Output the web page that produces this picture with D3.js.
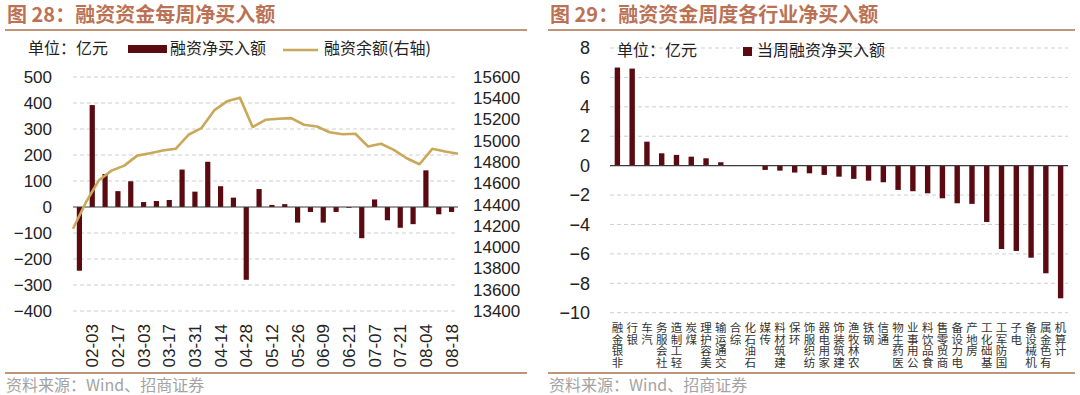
<!DOCTYPE html>
<html>
<head>
<meta charset="utf-8">
<script src="https://cdn.jsdelivr.net/npm/d3@7"></script>
<style>
  body { margin: 0; background: #fff; }
  svg { display: block; }
</style>
</head>
<body>
<svg id="chart" width="1080" height="395"></svg>
<script>
// ---- left chart: weekly net buy & margin balance ----
const weeks = ['01-20', '02-03', '02-10', '02-17', '02-24', '03-03', '03-10', '03-17', '03-24', '03-31',
  '04-07', '04-14', '04-21', '04-28', '05-05', '05-12', '05-19', '05-26', '06-02', '06-09',
  '06-16', '06-21', '06-30', '07-07', '07-14', '07-21', '07-28', '08-04', '08-11', '08-18'];
const weekLabels = ['02-03', '02-17', '03-03', '03-17', '03-31', '04-14', '04-28', '05-12',
  '05-26', '06-09', '06-21', '07-07', '07-21', '08-04', '08-18'];
const netBuy = [-245, 392, 127, 61, 99, 19, 23, 27, 144, 59, 174, 80, 36, -280, 69,
  8, 11, -60, -19, -60, -19, -3, -120, 29, -51, -80, -66, 141, -28, -19];
const balance = [14173, 14420, 14626, 14720, 14767, 14861, 14884, 14909, 14925, 15057, 15119,
  15286, 15371, 15406, 15129, 15198, 15208, 15213, 15151, 15135, 15081, 15062, 15066,
  14947, 14972, 14915, 14836, 14780, 14925, 14899, 14878];
const leftTicks = [-400, -300, -200, -100, 0, 100, 200, 300, 400, 500];
const rightTicks = [13400, 13600, 13800, 14000, 14200, 14400, 14600, 14800, 15000, 15200, 15400, 15600];

// ---- right chart: industry net buy ----
const industries = ['非银金融', '银行', '汽车', '社会服务', '轻工制造', '煤炭', '美容护理', '交通运输',
  '综合', '石油石化', '传媒', '建筑材料', '环保', '纺织服饰', '家用电器', '建筑装饰', '农林牧渔',
  '钢铁', '通信', '医药生物', '公用事业', '食品饮料', '商贸零售', '电力设备', '房地产', '基础化工',
  '国防军工', '电子', '机械设备', '有色金属', '计算机'];
const industryNet = [6.67, 6.6, 1.63, 0.84, 0.73, 0.61, 0.5, 0.23, 0.02, -0.02, -0.29, -0.34,
  -0.47, -0.52, -0.63, -0.75, -0.9, -1.02, -1.13, -1.65, -1.74, -1.88, -2.22, -2.56, -2.6,
  -3.83, -5.67, -5.8, -6.26, -7.32, -9.02];
const industryTicks = [-10, -8, -6, -4, -2, 0, 2, 4, 6, 8];

const BAR = '#5a0a10';
const LINE = '#c9a85a';
const TITLE = '#bb7254';
const RULE = '#bf9478';
const CJK = '"Noto Sans CJK SC", sans-serif';
const NUM = '"Liberation Sans", Arial, sans-serif';

const svg = d3.select('#chart');
svg.append('rect').attr('width', 1080).attr('height', 395).attr('fill', '#fff');

// headers, rules, footers
function frame(x0, x1, title) {
  svg.append('text').attr('x', x0 + 2).attr('y', 22)
    .attr('fill', TITLE).attr('font-size', 20).attr('font-weight', 'bold').attr('font-family', CJK)
    .text(title);
  svg.append('line').attr('x1', x0).attr('x2', x1).attr('y1', 30).attr('y2', 30)
    .attr('stroke', RULE).attr('stroke-width', 2);
  svg.append('line').attr('x1', x0).attr('x2', x1).attr('y1', 373).attr('y2', 373)
    .attr('stroke', RULE).attr('stroke-width', 2);
  svg.append('text').attr('x', x0 + 1).attr('y', 391)
    .attr('fill', '#a3a3a3').attr('font-size', 16).attr('font-family', CJK)
    .text('资料来源：Wind、招商证券');
}
frame(5, 527, '图 28：融资资金每周净买入额');
frame(548, 1075, '图 29：融资资金周度各行业净买入额');

// ================= left chart =================
const L = { left: 73, right: 458, top: 77, bottom: 311 };
const xBand = d3.scaleBand().domain(weeks).range([L.left, L.right]);
const xLine = d3.scalePoint().domain(d3.range(balance.length)).range([L.left, L.right]);
const yL = d3.scaleLinear().domain([-400, 500]).range([L.bottom, L.top]);
const yR = d3.scaleLinear().domain([13400, 15600]).range([L.bottom, L.top]);

const gl = svg.append('g');
gl.selectAll('line.grid').data(leftTicks.filter(d => d !== 0)).join('line')
  .attr('x1', L.left).attr('x2', L.right)
  .attr('y1', d => yL(d)).attr('y2', d => yL(d))
  .attr('stroke', '#cfcfcf').attr('stroke-dasharray', '4,3');

gl.append('g').attr('transform', `translate(${L.left},0)`)
  .call(d3.axisLeft(yL).tickValues(leftTicks).tickSize(0).tickPadding(21))
  .call(g => g.select('.domain').remove())
  .selectAll('text').attr('font-size', 17).attr('font-family', NUM).attr('fill', '#222');

gl.append('g').attr('transform', `translate(${L.right},0)`)
  .call(d3.axisRight(yR).tickValues(rightTicks).tickFormat(d3.format('d')).tickSize(0).tickPadding(15))
  .call(g => g.select('.domain').remove())
  .selectAll('text').attr('font-size', 17).attr('font-family', NUM).attr('fill', '#222');

gl.selectAll('rect.bar').data(netBuy).join('rect')
  .attr('x', (d, i) => xBand(weeks[i]) + xBand.bandwidth() / 2 - 2.6)
  .attr('width', 5.2)
  .attr('y', d => yL(Math.max(0, d)))
  .attr('height', d => Math.abs(yL(d) - yL(0)))
  .attr('fill', BAR);

gl.append('line').attr('x1', L.left).attr('x2', L.right)
  .attr('y1', yL(0)).attr('y2', yL(0)).attr('stroke', '#3a3a3a').attr('stroke-width', 1.2);

gl.append('path').datum(balance)
  .attr('fill', 'none').attr('stroke', LINE).attr('stroke-width', 2.6).attr('stroke-linejoin', 'round')
  .attr('d', d3.line().x((d, i) => xLine(i)).y(d => yR(d)));

gl.append('g').attr('transform', `translate(0,${L.bottom})`)
  .call(d3.axisBottom(xBand).tickValues(weekLabels).tickSize(0))
  .call(g => g.select('.domain').remove())
  .selectAll('text')
  .attr('transform', 'rotate(-90)')
  .attr('text-anchor', 'end')
  .attr('x', -13).attr('y', 0).attr('dy', '0.36em')
  .attr('font-size', 17).attr('font-family', NUM).attr('fill', '#222');

// legend
const lg = svg.append('g').attr('font-family', CJK).attr('font-size', 16).attr('fill', '#222');
lg.append('text').attr('x', 28).attr('y', 54).text('单位：亿元');
lg.append('rect').attr('x', 128).attr('y', 45).attr('width', 39).attr('height', 8).attr('fill', BAR);
lg.append('text').attr('x', 170).attr('y', 54).text('融资净买入额');
lg.append('line').attr('x1', 283).attr('x2', 318).attr('y1', 50).attr('y2', 50)
  .attr('stroke', LINE).attr('stroke-width', 2.6);
lg.append('text').attr('x', 324).attr('y', 54).text('融资余额(右轴)');

// ================= right chart =================
const R = { left: 610, right: 1068, top: 48, bottom: 312.7 };
const xInd = d3.scaleBand().domain(industries).range([R.left, R.right]);
const yInd = d3.scaleLinear().domain([-10, 8]).range([R.bottom, R.top]);

const gr = svg.append('g');
gr.selectAll('line.grid').data(industryTicks.filter(d => d !== 0)).join('line')
  .attr('x1', R.left).attr('x2', R.right)
  .attr('y1', d => yInd(d)).attr('y2', d => yInd(d))
  .attr('stroke', '#cfcfcf').attr('stroke-dasharray', '4,3');

gr.append('g').attr('transform', `translate(${R.left},0)`)
  .call(d3.axisLeft(yInd).tickValues(industryTicks).tickSize(0).tickPadding(20))
  .call(g => g.select('.domain').remove())
  .selectAll('text').attr('font-size', 18).attr('font-family', NUM).attr('fill', '#222');

gr.selectAll('rect.bar').data(industryNet).join('rect')
  .attr('x', (d, i) => xInd(industries[i]) + xInd.bandwidth() / 2 - 2.7)
  .attr('width', 5.4)
  .attr('y', d => yInd(Math.max(0, d)))
  .attr('height', d => Math.abs(yInd(d) - yInd(0)))
  .attr('fill', BAR);

gr.append('line').attr('x1', R.left).attr('x2', R.right)
  .attr('y1', yInd(0)).attr('y2', yInd(0)).attr('stroke', '#3a3a3a').attr('stroke-width', 1.2);

// vertical labels, one text each; the last character sits at the top
gr.selectAll('text.lab').data(industries).join('text')
  .attr('class', 'lab')
  .attr('x', d => xInd(d) + xInd.bandwidth() / 2)
  .attr('y', R.bottom + 9)
  .attr('writing-mode', 'vertical-rl')
  .attr('text-anchor', 'start')
  .attr('font-size', 11.5).attr('font-family', CJK).attr('fill', '#333')
  .attr('letter-spacing', 0.2)
  .text(d => Array.from(d).reverse().join(''));

// legend
const rg = svg.append('g').attr('font-family', CJK).attr('font-size', 16).attr('fill', '#222');
rg.append('text').attr('x', 617).attr('y', 56).text('单位：亿元');
rg.append('rect').attr('x', 743).attr('y', 47).attr('width', 9).attr('height', 9).attr('fill', BAR);
rg.append('text').attr('x', 757).attr('y', 56).text('当周融资净买入额');
</script>
</body>
</html>
